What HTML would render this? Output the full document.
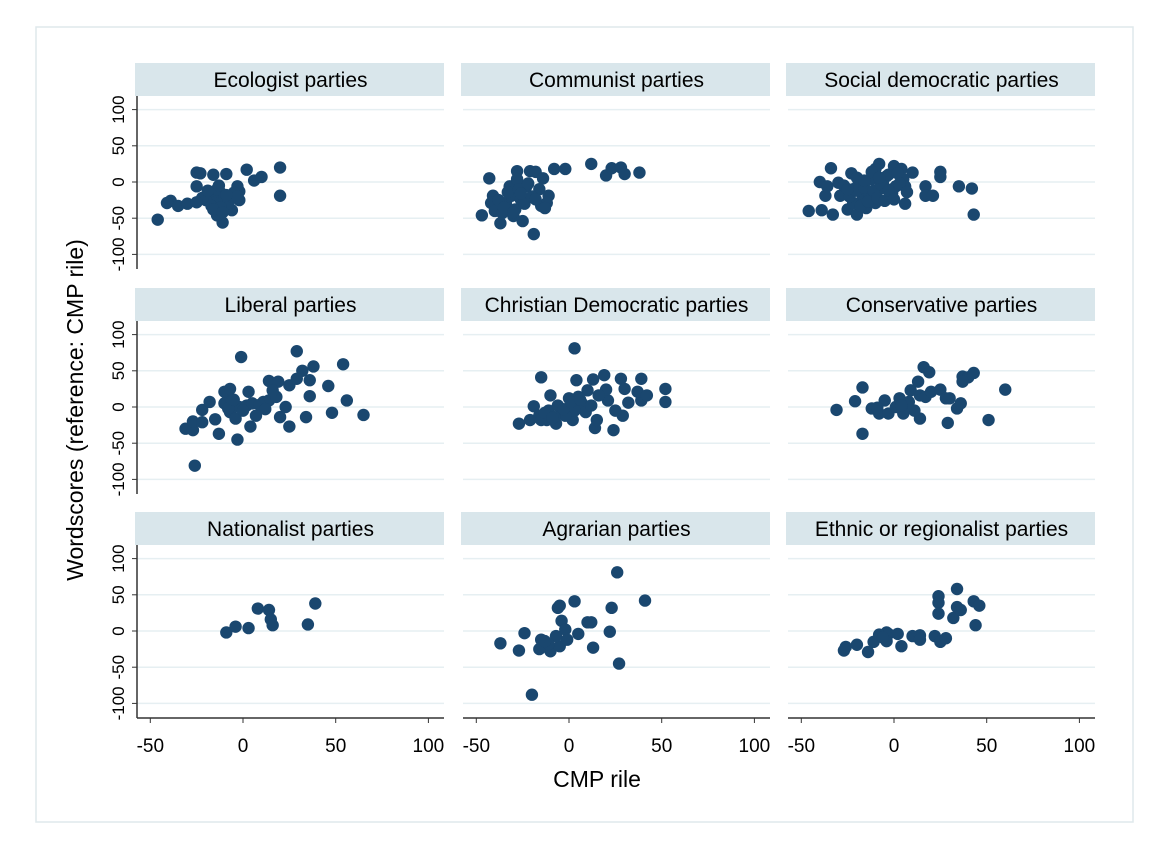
<!DOCTYPE html>
<html><head><meta charset="utf-8"><style>
body{margin:0;background:#fff;font-family:"Liberation Sans",Arial,sans-serif}
</style></head><body>
<svg id="chart" width="1163" height="840" viewBox="0 0 1163 840" xmlns="http://www.w3.org/2000/svg" font-family="Liberation Sans, Arial, sans-serif">
<rect x="0" y="0" width="1163" height="840" fill="#fff"/>
<rect x="36" y="27" width="1097" height="795" fill="none" stroke="#dfe8ec" stroke-width="1.5"/>
<text transform="translate(83,410) rotate(-90)" text-anchor="middle" font-size="23" fill="#000">Wordscores (reference: CMP rile)</text>
<text x="597" y="787" text-anchor="middle" font-size="23" fill="#000">CMP rile</text>
<g id="panels"></g>
</svg>
<script>
const titles=["Ecologist parties","Communist parties","Social democratic parties","Liberal parties","Christian Democratic parties","Conservative parties","Nationalist parties","Agrarian parties","Ethnic or regionalist parties"];
const xTicks=[-50,0,50,100];
const yTicks=[100,50,0,-50,-100];
const ecoX=[-46,-39,-41,-35,-30,-25,-23,-25,-16,-9,2,6,10,20,20,-11,-14,-6,-3,-2,-2,-18,-15,-12,-10,-8,-14,-20,-17,-6,-12,-22,-25,-5,-3,-19,-13,-9,-16,-11];
const ecoY=[-52,-26,-29,-33,-30,13,12,-6,10,11,17,2,7,20,-19,-56,-46,-39,-6,-13,-25,-20,-28,-15,-22,-30,-10,-25,-33,-20,-35,-22,-28,-15,-20,-12,-5,-18,-38,-42];
const comX=[-43,-47,-37,-19,-28,-21,-18,-14,-8,-2,12,20,23,28,30,38,-41,-42,-40,-34,-32,-31,-29,-26,-25,-23,-16,-11,-15,-12,-36,-28,-30,-38,-33,-27,-24,-20,-35,-30,-26,-22,-18,-13];
const comY=[5,-46,-57,-72,15,15,14,5,18,18,25,9,19,20,11,13,-19,-29,-40,-29,-6,-19,-38,-24,-54,-6,-10,-19,-33,-29,-43,4,-47,-25,-14,-10,-30,-20,-35,-42,-16,-2,-24,-36];
const socX=[-46,-39,-33,-34,-40,-37,-36,-30,-23,-25,-20,-15,-8,-10,0,4,10,6,17,17,21,25,25,35,42,43,-26,-22,-19,-15,-12,-8,-4,-2,1,5,-17,-10,-6,-13,-22,-1,6,-29,-27,-24,-20,-18,-16,-14,-11,-9,-7,-5,-3,-1,2,3,7,-20,-12,-8,-3,0,-25,-16];
const socY=[-40,-39,-45,19,0,-19,-6,-1,12,-38,-45,-36,25,18,22,18,13,-30,-6,-19,-19,14,7,-6,-9,-45,-15,-10,-1,-15,4,-10,8,-19,-6,4,-24,-29,-1,-19,-29,-15,-6,-19,-5,-20,-12,-33,-8,-27,-12,-22,-3,-26,10,-10,12,-2,-14,6,14,6,-12,-24,-10,2];
const libX=[-26,-1,29,54,38,32,36,46,56,65,48,34,36,25,-3,-13,4,-31,-27,-27,-22,-15,-22,-18,-10,-7,3,14,19,25,29,-10,-7,-4,-2,2,7,11,14,18,16,20,23,-6,5,-8,-5,0,9,12];
const libY=[-81,69,77,59,56,50,37,29,9,-11,-8,-14,15,-27,-45,-37,-27,-30,-32,-20,-21,-17,-4,7,21,25,21,36,35,30,39,5,-7,-16,0,2,-12,7,9,14,23,-14,0,9,5,-2,10,-5,3,-3];
const chrX=[3,-15,-10,-27,-21,-19,-12,-7,-4,2,0,4,13,19,28,30,39,52,52,39,37,42,32,29,24,14,15,21,20,25,10,16,7,9,12,3,-16,-11,-6,-2,5,-15,-8,-3,1,6,-13,-9];
const chrY=[81,41,16,-23,-18,1,-18,-23,-9,-18,12,37,38,44,39,25,39,25,7,9,21,16,6,-12,-32,-29,-18,9,24,-5,23,16,5,-7,2,-5,-12,-5,2,-12,14,-18,-14,-3,7,10,-8,-15];
const conX=[-31,-21,-17,-17,-12,-8,-5,-3,3,5,9,13,16,19,14,17,20,25,28,30,29,34,36,37,40,43,37,51,60,14,11,6,8,1,4,-9];
const conY=[-4,8,27,-37,-2,-9,9,-9,12,-9,23,35,55,48,16,14,21,24,12,12,-22,-2,5,42,41,47,35,-18,24,-16,-5,0,7,0,2,-1];
const natX=[-9,-4,3,8,14,15,16,35,39];
const natY=[-2,6,4,31,29,16,8,9,38];
const agrX=[-37,-27,-24,-20,-15,-16,-10,-5,-6,-5,3,-4,-2,-7,-1,5,10,12,13,22,23,26,27,41,-11,-13];
const agrY=[-17,-27,-3,-88,-12,-25,-28,-21,32,35,41,14,2,-7,-12,-4,12,12,-23,-1,32,81,-45,42,-18,-14];
const ethX=[-27,-26,-20,-14,-11,-8,-4,-3,2,-4,4,10,14,14,22,25,28,24,24,24,32,34,34,36,43,46,44,-6];
const ethY=[-27,-22,-19,-29,-15,-5,-2,-4,-4,-14,-21,-7,-6,-12,-7,-15,-10,48,39,24,18,58,33,29,41,35,8,-9];
const seriesX=[ecoX,comX,socX,libX,chrX,conX,natX,agrX,ethX];
const seriesY=[ecoY,comY,socY,libY,chrY,conY,natY,agrY,ethY];
const NS="http://www.w3.org/2000/svg";
const root=document.getElementById('panels');
function mk(tag,attrs,parent){const e=document.createElementNS(NS,tag);for(const k in attrs)e.setAttribute(k,attrs[k]);parent.appendChild(e);return e;}
const colLeft=[137,463,788], rowHead=[63,288,512], pw=307;
function xScale(c,v){return colLeft[c]+106+v*1.854;}
function yScale(r,v){return rowHead[r]+119-v*0.724;}
for(let i=0;i<9;i++){
  const r=Math.floor(i/3),c=i%3;
  const g=mk('g',{},root);
  
  
  const hy=rowHead[r];
  const hdr=mk('rect',{x:colLeft[c]-2,y:hy,width:pw+2,height:33,fill:'#d9e6eb'},g);
  
  
  const t=mk('text',{x:colLeft[c]+pw/2,y:hy+24,'text-anchor':'middle','font-size':21,fill:'#000'},g);
  t.textContent=titles[i];
  
  
  yTicks.forEach(v=>{
    const gl=mk('line',{x1:colLeft[c],x2:colLeft[c]+pw,y1:yScale(r,v),y2:yScale(r,v),stroke:'#e6eff2','stroke-width':1.5},g);
    
    
    if(c===0){
      mk('line',{x1:colLeft[c]-5,x2:colLeft[c],y1:yScale(r,v),y2:yScale(r,v),stroke:'#333'},g);
      const tl=mk('text',{transform:`translate(${colLeft[c]-13},${yScale(r,v)}) rotate(-90)`,'text-anchor':'middle','font-size':17,fill:'#000'},g);
      tl.textContent=v;
      
      
    }
  });
  if(c===0){
    const ax=mk('line',{x1:colLeft[c],x2:colLeft[c],y1:hy+33,y2:hy+206,stroke:'#333','stroke-width':1.5},g);
    
    
  }
  if(r===2){
    const by=hy+206;
    const ax=mk('line',{x1:colLeft[c],x2:colLeft[c]+pw,y1:by,y2:by,stroke:'#333','stroke-width':1.5},g);
    
    
    xTicks.forEach(v=>{
      mk('line',{x1:xScale(c,v),x2:xScale(c,v),y1:by,y2:by+5,stroke:'#333'},g);
      const tl=mk('text',{x:xScale(c,v),y:by+34,'text-anchor':'middle','font-size':19,fill:'#000'},g);
      tl.textContent=v;
      
      
    });
  }
  const xs=seriesX[i],ys=seriesY[i];
  for(let k=0;k<xs.length;k++){
    const p=mk('circle',{cx:xScale(c,xs[k]),cy:yScale(r,ys[k]),r:6.2,fill:'#1a476f'},g);
    
    
  }
}
</script>
</body></html>
